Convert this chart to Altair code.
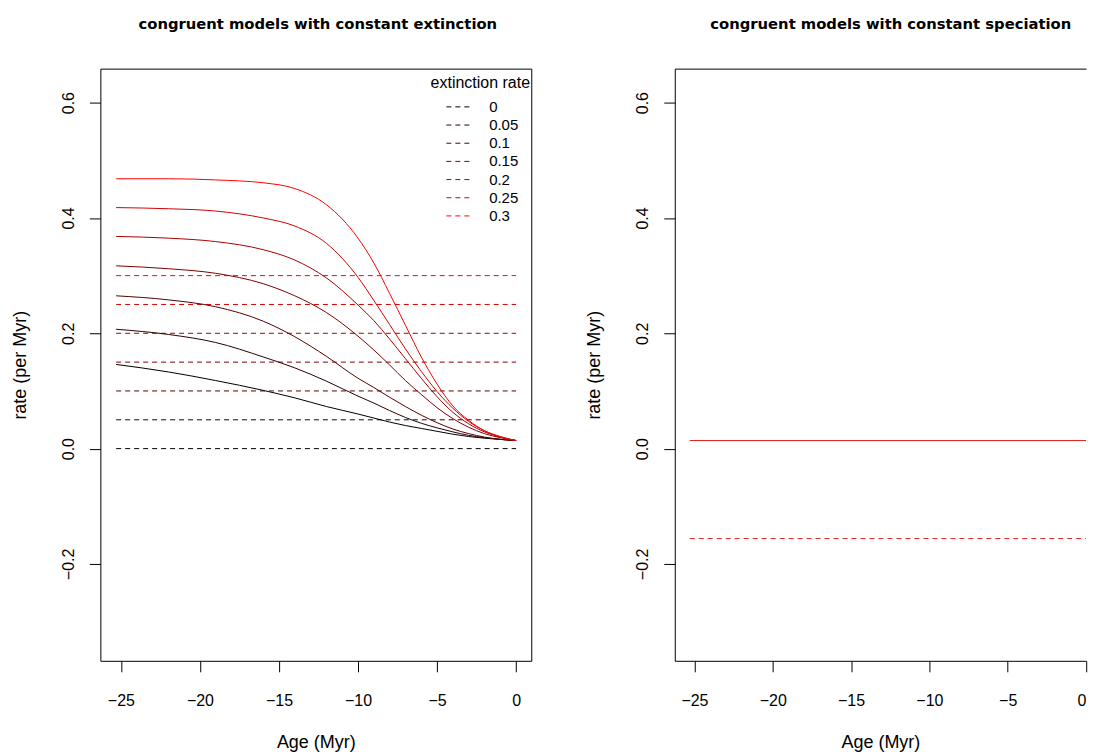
import altair as alt
import pandas as pd

# ---------------- data ----------------
ages = [-25.3, -22, -19, -16, -14, -12, -10, -9, -8, -7, -6, -5, -4, -3, -2, -1, 0]

mu_labels = ["0", "0.05", "0.1", "0.15", "0.2", "0.25", "0.3"]
mu_values = [0.0, 0.05, 0.1, 0.15, 0.2, 0.25, 0.3]

lam_mu000 = [.146, .133, .118, .101, .088, .073, .060, .053, .046, .040, .035, .030, .025, .021, .018, .016, .014]
lam_mu005 = [.207, .198, .184, .159, .140, .117, .091, .079, .066, .054, .044, .036, .029, .023, .019, .016, .014]
lam_mu010 = [.265, .258, .246, .221, .194, .160, .122, .106, .089, .073, .058, .045, .034, .026, .020, .016, .014]
lam_mu015 = [.317, .312, .304, .286, .265, .236, .195, .171, .145, .118, .094, .071, .052, .037, .026, .019, .014]
lam_mu020 = [.368, .365, .359, .345, .327, .296, .249, .222, .190, .156, .122, .090, .063, .043, .029, .020, .014]
lam_mu025 = [.418, .416, .412, .400, .386, .356, .297, .257, .215, .173, .134, .099, .070, .047, .031, .021, .014]
lam_mu030 = [.468, .468, .466, .461, .451, .423, .365, .322, .269, .214, .159, .112, .074, .049, .031, .020, .014]
curves = [lam_mu000, lam_mu005, lam_mu010, lam_mu015, lam_mu020, lam_mu025, lam_mu030]

dash_ages = [-25.3, 0]

colors = ["#000000", "#2a0000", "#550000", "#7f0000", "#aa0000", "#d40000", "#ff0000"]

# right panel: constant speciation, congruent extinction
right_ages = [-25.3, 0]
right_lambda = [0.014, 0.014]
right_mu = [-0.156, -0.156]

# ---------------- tables ----------------
rows = []
for lab, lam in zip(mu_labels, curves):
    for a, v in zip(ages, lam):
        rows.append({"age": a, "rate": v, "mu": lab})
curve_df = pd.DataFrame(rows)

drows = []
for lab, m in zip(mu_labels, mu_values):
    for a in dash_ages:
        drows.append({"age": a, "rate": m, "mu": lab})
dash_df = pd.DataFrame(drows)

right_df = pd.DataFrame(
    [{"age": a, "rate": v, "kind": "lambda"} for a, v in zip(right_ages, right_lambda)]
    + [{"age": a, "rate": v, "kind": "mu"} for a, v in zip(right_ages, right_mu)]
)

# ---------------- styling ----------------
W, H = 431.5, 593
XDOM = [-26.3, 0.96]
RW = 1087.5 - 675.7        # right panel is cut by the page edge
XDOM_R = [-26.256, 0]
YDOM = [-0.368, 0.659]
LABEL_FONT = "Liberation Sans"
TITLE_FONT = "DejaVu Sans"

xscale = alt.Scale(domain=XDOM, nice=False, zero=False)
xscale_r = alt.Scale(domain=XDOM_R, nice=False, zero=False)
yscale = alt.Scale(domain=YDOM, nice=False, zero=False)


def xaxis(domain=False, flush=False):
    return alt.Axis(
        title="Age (Myr)", values=[-25, -20, -15, -10, -5, 0], format="d",
        grid=False, domain=domain, domainColor="black", tickColor="black",
        tickSize=11, labelPadding=21, labelFontSize=16, labelFont=LABEL_FONT,
        labelColor="black", titleFont=LABEL_FONT, titleFontSize=18,
        titleFontWeight="normal", titleColor="black", titlePadding=24.5,
        labelFlush=flush,
    )


def yaxis(domain=False):
    return alt.Axis(
        title="rate (per Myr)", values=[-0.2, 0.0, 0.2, 0.4, 0.6], format=".1f",
        grid=False, domain=domain, domainColor="black", tickColor="black",
        tickSize=11, labelAngle=-90, labelAlign="center", labelBaseline="bottom",
        labelPadding=13, labelFontSize=16, labelFont=LABEL_FONT, labelColor="black",
        titleFont=LABEL_FONT, titleFontSize=18, titleFontWeight="normal",
        titleColor="black", titlePadding=31,
    )


def title(text, dx=0):
    return alt.TitleParams(
        text, font=TITLE_FONT, fontSize=14.8, fontWeight="bold", color="black",
        anchor="middle", baseline="bottom", offset=22, dx=dx,
    )


legend = alt.Legend(
    title="extinction rate", orient="none", legendX=330.7, legendY=6,
    symbolType="M-1.28,0H1.28", symbolSize=324, symbolStrokeWidth=1,
    symbolDash=[5, 4], symbolOffset=17.8, labelOffset=21.8,
    labelFont=LABEL_FONT, labelFontSize=15, labelColor="black",
    titleFont=LABEL_FONT, titleFontSize=16, titleFontWeight="normal",
    titleColor="black", titleAnchor="start", titlePadding=6.8, rowPadding=0.2,
    padding=0,
)

color = alt.Color("mu:N", scale=alt.Scale(domain=mu_labels, range=colors),
                  sort=mu_labels, legend=legend)

curve_layer = alt.Chart(curve_df).mark_line(
    strokeWidth=1, interpolate="monotone").encode(
    x=alt.X("age:Q", scale=xscale, axis=xaxis()),
    y=alt.Y("rate:Q", scale=yscale, axis=yaxis()),
    color=color,
    detail="mu:N",
)

dash_layer = alt.Chart(dash_df).mark_line(strokeWidth=1, strokeDash=[5, 4]).encode(
    x=alt.X("age:Q", scale=xscale),
    y=alt.Y("rate:Q", scale=yscale),
    color=color,
    detail="mu:N",
)

left = alt.layer(dash_layer, curve_layer).properties(
    width=W, height=H, title=title("congruent models with constant extinction", dx=2),
    view=alt.ViewBackground(stroke="black", strokeWidth=1),
)

right_solid = alt.Chart(right_df).transform_filter(alt.datum.kind == "lambda").mark_line(
    strokeWidth=1, color="#dd2222").encode(
    x=alt.X("age:Q", scale=xscale_r, axis=xaxis(domain=True, flush=True)),
    y=alt.Y("rate:Q", scale=yscale, axis=yaxis(domain=True)),
)
# the dashed layer also carries the top frame line of the (cut) panel
right_dash = alt.Chart(right_df).transform_filter(alt.datum.kind == "mu").mark_line(
    strokeWidth=1, strokeDash=[5, 4], color="#dd2222").encode(
    x=alt.X("age:Q", scale=xscale_r,
            axis=alt.Axis(orient="top", labels=False, ticks=False, title=None,
                          grid=False, domain=True, domainColor="black")),
    y=alt.Y("rate:Q", scale=yscale),
)

right = alt.layer(right_solid, right_dash).resolve_axis(x="independent").properties(
    width=RW, height=H,
    title=title("congruent models with constant speciation", dx=892 - (675.7 + RW / 2)),
    view=alt.ViewBackground(stroke=None),
)

chart = alt.hconcat(left, right, spacing=143.2, bounds="flush").properties(
    padding={"left": 2.5, "top": 7.2, "right": 0, "bottom": 0},
    background="white",
).resolve_scale(color="independent")

chart.save("out.html", embed_options={"renderer": "svg", "actions": False})
